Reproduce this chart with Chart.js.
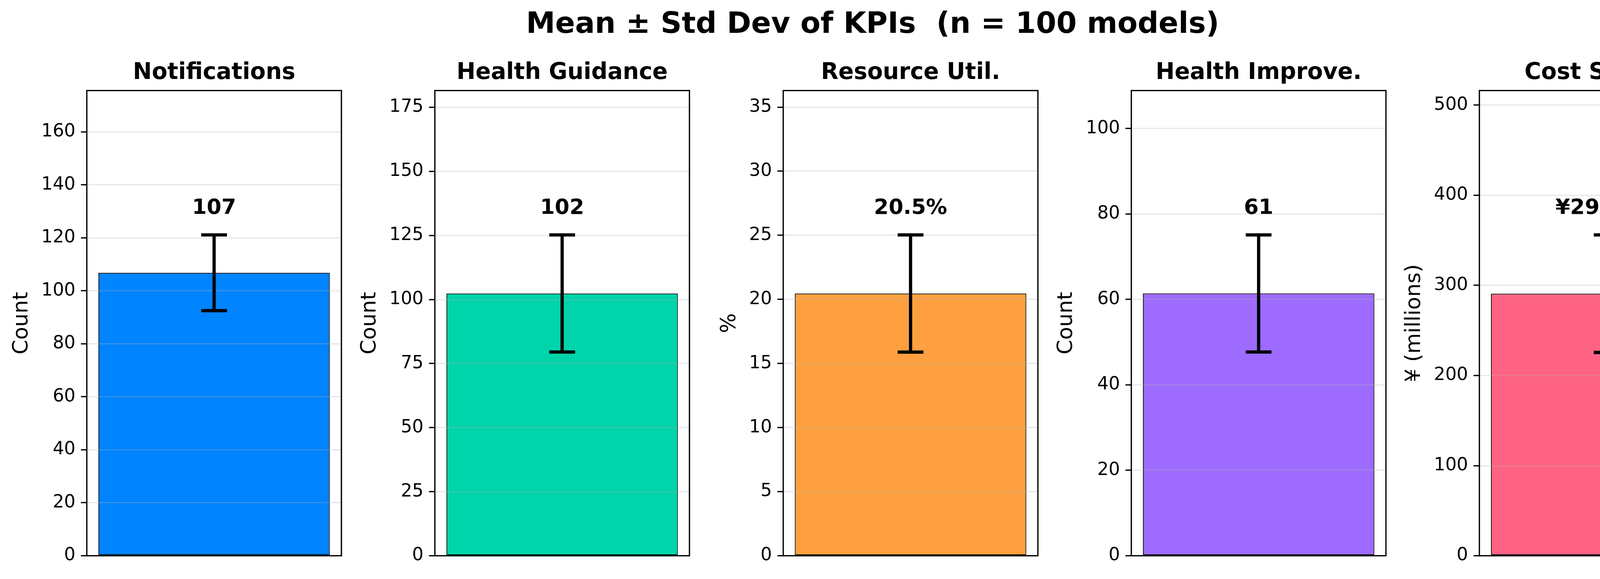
<!DOCTYPE html>
<html>
<head>
<meta charset="utf-8">
<script src="https://cdn.jsdelivr.net/npm/chart.js@4.4.1/dist/chart.umd.min.js"></script>
<style>
  html, body { margin: 0; padding: 0; background: #fff; }
  #fig { position: relative; width: 4468px; height: 1481px; overflow: hidden; background: #fff; }
  #suptitle { position: absolute; left: 0; top: 21px; width: 4468px; text-align: center;
              font: bold 75px "DejaVu Sans"; line-height: 75px; color: #000; white-space: pre; }
  canvas { position: absolute; }
</style>
</head>
<body>
<div id="fig"><div id="suptitle">Mean ± Std Dev of KPIs  (n = 100 models)</div></div>
<script>
// KPI data
const kpiTitles = ['Notifications', 'Health Guidance', 'Resource Util.', 'Health Improve.', 'Cost Savings'];
const yLabels = ['Count', 'Count', '%', 'Count', '¥ (millions)'];
const means = [106.8, 102.35, 20.46, 61.4, 290.8];
const stds = [14.3, 22.85, 4.57, 13.7, 65.2];
const tickSteps = [20, 25, 5, 20, 100];
const labelKinds = ['int', 'int', 'pct', 'int', 'yen'];
const barColors = ['#0084ff', '#00d4aa', '#ffa040', '#9d6bff', '#ff6384'];

const FONT = '"DejaVu Sans"';
// where each plot area sits in the figure
const plotLeft = [222, 1113, 2005, 2896, 3787];
const plotTop = 232;
const plotW = 652;
const plotH = 1190;

const fig = document.getElementById('fig');

function fmtLabel(v, kind) {
    if (kind === 'pct') return v.toFixed(1) + '%';
    if (kind === 'yen') return '¥' + v.toFixed(1) + 'M';
    return String(Math.round(v));
}

// black box round the plot area (all four spines)
const frame = {
    id: 'frame',
    afterDraw(chart) {
        const { ctx, chartArea: a } = chart;
        ctx.save();
        ctx.strokeStyle = '#000';
        ctx.lineWidth = 3.3;
        ctx.strokeRect(a.left, a.top, a.right - a.left, a.bottom - a.top);
        ctx.restore();
    }
};

// mean ± std whisker plus the value text above it
const errorBars = {
    id: 'errorBars',
    afterDraw(chart, args, opts) {
        const i = opts.index;
        const y = chart.scales.y;
        const cx = chart.getDatasetMeta(0).data[0].x;
        const hi = y.getPixelForValue(means[i] + stds[i]);
        const lo = y.getPixelForValue(means[i] - stds[i]);
        const cap = 33;
        const ctx = chart.ctx;
        ctx.save();
        ctx.strokeStyle = '#000';
        ctx.lineWidth = 8.3;
        ctx.beginPath();
        ctx.moveTo(cx, hi); ctx.lineTo(cx, lo);
        ctx.moveTo(cx - cap, hi); ctx.lineTo(cx + cap, hi);
        ctx.moveTo(cx - cap, lo); ctx.lineTo(cx + cap, lo);
        ctx.stroke();

        ctx.fillStyle = '#000';
        ctx.font = 'bold 54px ' + FONT;
        ctx.textAlign = 'center';
        ctx.textBaseline = 'bottom';
        const ty = y.getPixelForValue((means[i] + stds[i]) * 1.05);
        ctx.fillText(fmtLabel(means[i], labelKinds[i]), cx, ty);
        ctx.restore();
    }
};

function buildChart(i, w, h) {
    const canvas = document.createElement('canvas');
    canvas.width = w;
    canvas.height = h;
    canvas.style.width = w + 'px';
    canvas.style.height = h + 'px';
    canvas.style.left = (plotLeft[i] - 230) + 'px';
    canvas.style.top = '140px';
    fig.appendChild(canvas);

    const yMax = (means[i] + stds[i]) * 1.45;

    const chart = new Chart(canvas.getContext('2d'), {
        type: 'bar',
        data: {
            labels: [kpiTitles[i]],
            datasets: [{
                data: [means[i]],
                backgroundColor: barColors[i],
                borderColor: '#000',
                borderWidth: 2,
                borderSkipped: false,
                barPercentage: 0.909,
                categoryPercentage: 1,
            }],
        },
        options: {
            responsive: false,
            maintainAspectRatio: false,
            animation: false,
            devicePixelRatio: 1,
            layout: { padding: { top: 0, right: 12, bottom: 30, left: 0 } },
            plugins: {
                legend: { display: false },
                tooltip: { enabled: false },
                title: {
                    display: true,
                    text: kpiTitles[i],
                    fullSize: false,
                    color: '#000',
                    font: { family: FONT, size: 58, weight: 'bold', lineHeight: 1.2 },
                    padding: { top: 0, bottom: 10 },
                },
                errorBars: { index: i },
            },
            scales: {
                x: { display: false },
                y: {
                    min: 0,
                    max: yMax,
                    ticks: {
                        stepSize: tickSteps[i],
                        includeBounds: false,
                        color: '#000',
                        padding: 14,
                        font: { family: FONT, size: 45.8 },
                    },
                    grid: {
                        color: 'rgba(176,176,176,0.3)',
                        lineWidth: 3,
                        drawTicks: true,
                        tickLength: 15,
                        tickColor: '#000',
                        tickWidth: 3.3,
                        z: 1,
                    },
                    border: { display: false },
                    title: {
                        display: true,
                        text: yLabels[i],
                        color: '#000',
                        font: { family: FONT, size: 54 },
                        padding: { top: 4, bottom: 3 },
                    },
                },
            },
        },
        plugins: [frame, errorBars],
    });
    return { chart, canvas };
}

kpiTitles.forEach((t, i) => {
    let w = 900, h = 1330;
    let built = buildChart(i, w, h);
    let a = built.chart.chartArea;
    const dw = plotW - (a.right - a.left);
    const dh = plotH - (a.bottom - a.top);
    if (Math.abs(dw) > 0.5 || Math.abs(dh) > 0.5) {
        built.chart.destroy();
        built.canvas.remove();
        w = Math.round(w + dw);
        h = Math.round(h + dh);
        built = buildChart(i, w, h);
        a = built.chart.chartArea;
    }
    // slide the canvas so its plot area lands on the reference position
    built.canvas.style.left = (plotLeft[i] - a.left) + 'px';
    built.canvas.style.top = (plotTop - a.top) + 'px';
});
</script>
</body>
</html>
